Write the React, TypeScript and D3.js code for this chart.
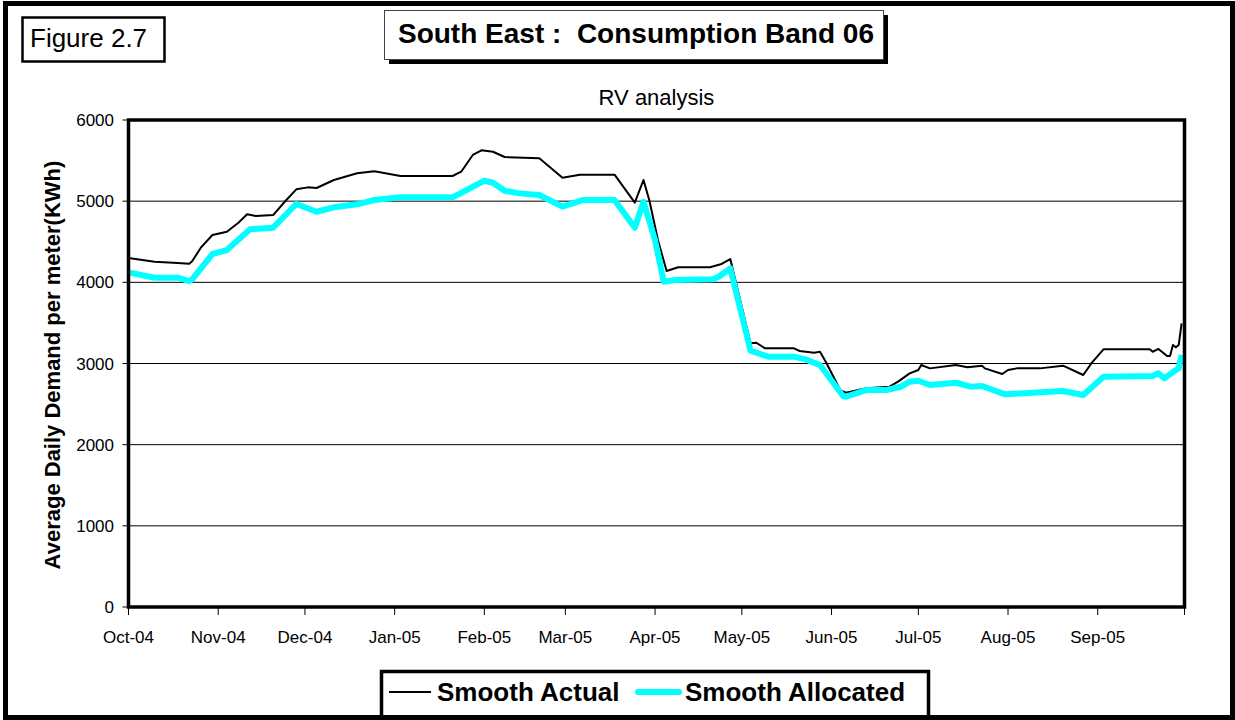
import React from "react";
import * as d3 from "d3";

const actualDates = ["2004-10-01","2004-10-10","2004-10-18","2004-10-22","2004-10-23","2004-10-26","2004-10-30","2004-11-04","2004-11-08","2004-11-11","2004-11-14","2004-11-20","2004-11-24","2004-11-28","2004-12-02","2004-12-05","2004-12-11","2004-12-19","2004-12-25","2005-01-03","2005-01-21","2005-01-24","2005-01-28","2005-01-31","2005-02-04","2005-02-08","2005-02-20","2005-02-28","2005-03-06","2005-03-18","2005-03-25","2005-03-28","2005-03-30","2005-04-02","2005-04-05","2005-04-09","2005-04-20","2005-04-24","2005-04-27","2005-05-04","2005-05-06","2005-05-09","2005-05-19","2005-05-21","2005-05-26","2005-05-28","2005-05-30","2005-06-04","2005-06-06","2005-06-13","2005-06-21","2005-06-24","2005-06-28","2005-07-01","2005-07-02","2005-07-05","2005-07-14","2005-07-18","2005-07-23","2005-07-24","2005-07-30","2005-08-01","2005-08-04","2005-08-12","2005-08-20","2005-08-27","2005-08-30","2005-09-03","2005-09-19","2005-09-20","2005-09-22","2005-09-25","2005-09-26","2005-09-27","2005-09-28","2005-09-29","2005-09-30"];
const actualValues = [4300,4254,4238,4230,4259,4427,4583,4624,4735,4838,4817,4829,4993,5146,5170,5162,5261,5343,5368,5310,5310,5363,5569,5626,5609,5544,5528,5289,5326,5326,4981,5261,5014,4521,4139,4185,4185,4226,4287,3249,3256,3187,3187,3154,3133,3145,3022,2673,2640,2694,2714,2776,2879,2920,2981,2940,2981,2953,2973,2940,2871,2920,2940,2940,2973,2858,3010,3175,3175,3145,3179,3092,3092,3228,3199,3228,3495];

const allocDates = ["2004-10-01","2004-10-10","2004-10-18","2004-10-22","2004-10-23","2004-10-30","2004-11-04","2004-11-12","2004-11-20","2004-11-28","2004-12-05","2004-12-11","2004-12-19","2004-12-25","2005-01-03","2005-01-21","2005-01-27","2005-02-01","2005-02-04","2005-02-08","2005-02-13","2005-02-20","2005-02-28","2005-03-07","2005-03-18","2005-03-25","2005-03-28","2005-04-01","2005-04-04","2005-04-08","2005-04-21","2005-04-23","2005-04-27","2005-05-04","2005-05-06","2005-05-10","2005-05-19","2005-05-23","2005-05-28","2005-06-05","2005-06-06","2005-06-13","2005-06-20","2005-06-25","2005-06-28","2005-07-01","2005-07-05","2005-07-14","2005-07-19","2005-07-23","2005-07-31","2005-08-20","2005-08-27","2005-09-03","2005-09-20","2005-09-22","2005-09-24","2005-09-28","2005-09-29","2005-09-30"];
const allocValues = [4123,4057,4057,4016,4037,4349,4398,4653,4673,4965,4870,4924,4961,5014,5047,5047,5158,5252,5227,5129,5096,5076,4932,5014,5014,4673,4993,4521,4008,4029,4037,4069,4172,3158,3133,3084,3084,3051,2981,2600,2591,2673,2673,2714,2776,2788,2735,2763,2714,2723,2620,2661,2612,2837,2846,2879,2817,2920,2940,3105];

const yTicks = [0, 1000, 2000, 3000, 4000, 5000, 6000];
const gridValues = [1000, 2000, 3000, 4000, 5000];
const seriesNames = ["Smooth Actual", "Smooth Allocated"];
const figureLabel = "Figure 2.7";
const chartTitle = "South East :  Consumption Band 06";
const subTitle = "RV analysis";
const yTitle = "Average Daily Demand per meter(KWh)";

const FONT = "'Liberation Sans', Arial, Helvetica, sans-serif";

export default function App() {
  const parse = d3.timeParse("%Y-%m-%d");
  const x = d3
    .scaleTime()
    .domain([parse("2004-10-01")!, parse("2005-10-01")!])
    .range([128.5, 1184.5]);
  const y = d3.scaleLinear().domain([0, 6000]).range([607, 120]);

  const actual = actualDates.map((d, i) => ({ date: parse(d)!, value: actualValues[i] }));
  const alloc = allocDates.map((d, i) => ({ date: parse(d)!, value: allocValues[i] }));

  const line = d3
    .line<{ date: Date; value: number }>()
    .x((d) => x(d.date))
    .y((d) => y(d.value));

  const monthTicks = x.ticks(d3.timeMonth.every(1)!);
  const fmt = d3.timeFormat("%b-%y");
  const xTickLabels = monthTicks.filter((t) => t < parse("2005-10-01")!);

  const [x0, x1] = x.range();
  const [yb, yt] = y.range();

  return (
    <svg
      width={1235}
      height={720}
      style={{ position: "absolute", left: 0, top: 0, background: "#fff" }}
      fontFamily={FONT}
    >
      <rect x={0} y={0} width={1235} height={720} fill="#fff" />

      {/* Figure label */}
      <rect x={22.5} y={17.5} width={142} height={44} fill="#fff" stroke="#000" strokeWidth={2.5} />
      <text x={30} y={47} fontSize={26} fill="#000">{figureLabel}</text>

      {/* Title box with shadow */}
      <rect x={389} y={15} width={499} height={49} fill="#000" />
      <rect x={384.5} y={10.5} width={499} height={49} fill="#fff" stroke="#444" strokeWidth={1} />
      <text
        x={636}
        y={43}
        fontSize={28}
        fontWeight="bold"
        textAnchor="middle"
        fill="#000"
        style={{ whiteSpace: "pre" }}
        xmlSpace="preserve"
      >
        {chartTitle}
      </text>

      {/* Subtitle */}
      <text x={(x0 + x1) / 2} y={105} fontSize={22} textAnchor="middle" fill="#000">
        {subTitle}
      </text>

      {/* Gridlines */}
      {gridValues.map((v) => (
        <line key={v} x1={x0} x2={x1} y1={y(v)} y2={y(v)} stroke="#000" strokeWidth={1} />
      ))}

      {/* Y ticks */}
      {yTicks.map((v) => (
        <g key={v}>
          <line x1={x0 - 6} x2={x0} y1={y(v)} y2={y(v)} stroke="#000" strokeWidth={1} />
          <text x={114} y={y(v) + 6} fontSize={17} textAnchor="end" fill="#000">
            {v}
          </text>
        </g>
      ))}

      {/* X ticks */}
      {monthTicks.map((t, i) => (
        <line key={i} x1={x(t)} x2={x(t)} y1={yb} y2={yb + 8} stroke="#000" strokeWidth={1} />
      ))}
      {xTickLabels.map((t, i) => (
        <text key={i} x={x(t)} y={643} fontSize={17} textAnchor="middle" fill="#000">
          {fmt(t)}
        </text>
      ))}

      {/* Y title */}
      <text
        transform="translate(60,365) rotate(-90)"
        fontSize={22}
        fontWeight="bold"
        textAnchor="middle"
        fill="#000"
      >
        {yTitle}
      </text>

      {/* Series */}
      <path d={line(actual) || ""} fill="none" stroke="#000" strokeWidth={2} strokeLinejoin="round" />
      <path d={line(alloc) || ""} fill="none" stroke="#00FFFF" strokeWidth={6} strokeLinejoin="round" />

      {/* Plot border */}
      <rect x={x0} y={yt} width={x1 - x0} height={yb - yt} fill="none" stroke="#000" strokeWidth={3.5} />

      {/* Legend */}
      <rect x={381.5} y={671.5} width={547} height={60} fill="#fff" stroke="#000" strokeWidth={3.5} />
      <line x1={389} x2={431} y1={692} y2={692} stroke="#000" strokeWidth={2} />
      <text x={437} y={701} fontSize={26} fontWeight="bold" fill="#000">{seriesNames[0]}</text>
      <line x1={638} x2={679} y1={692} y2={692} stroke="#00FFFF" strokeWidth={6} strokeLinecap="round" />
      <text x={685} y={701} fontSize={26} fontWeight="bold" fill="#000">{seriesNames[1]}</text>

      {/* Outer frame */}
      <rect x={5.5} y={3.5} width={1227} height={714} fill="none" stroke="#000" strokeWidth={5} />
    </svg>
  );
}
